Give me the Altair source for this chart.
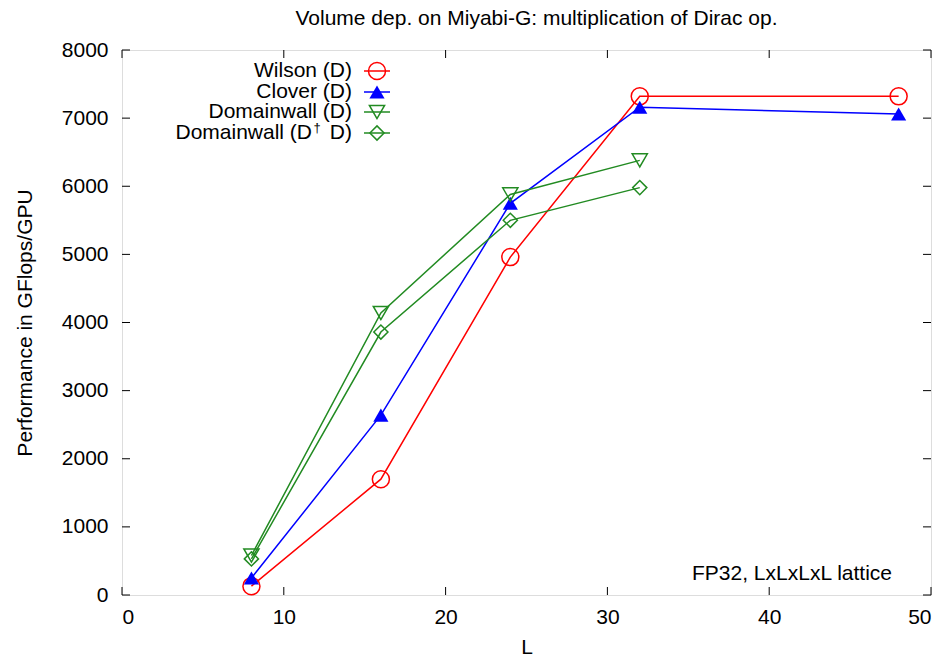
import altair as alt
import pandas as pd

# ---- data ----
L_wilson = [8, 16, 24, 32, 48]
wilson = [130, 1700, 4960, 7320, 7320]
L_clover = [8, 16, 24, 32, 48]
clover = [250, 2640, 5750, 7160, 7060]
L_dw = [8, 16, 24, 32]
dw_d = [580, 4140, 5880, 6380]
dw_ddag = [530, 3860, 5500, 5980]

x_ticks = [0, 10, 20, 30, 40, 50]
y_ticks = [0, 1000, 2000, 3000, 4000, 5000, 6000, 7000, 8000]

FONT = "Liberation Sans"
FS = 21
W, H = 809, 545
RED, BLUE, GREEN = "#ff0000", "#0000ff", "#228b22"

xs = alt.Scale(domain=[0, 50], nice=False)
ys = alt.Scale(domain=[0, 8000], nice=False)

xax = alt.Axis(values=x_ticks, ticks=False, domain=False, grid=False, format="d",
               labelFontSize=FS, labelFont=FONT, labelPadding=11, labelColor="black",
               titleFont=FONT, titleFontSize=FS, titleFontWeight="normal",
               titlePadding=9, titleColor="black")
yax = alt.Axis(values=y_ticks, ticks=False, domain=False, grid=False, format="d",
               labelFontSize=FS, labelFont=FONT, labelPadding=14, labelColor="black",
               titleFont=FONT, titleFontSize=FS, titleFontWeight="normal",
               titlePadding=26, titleColor="black")


def series(Ls, vals, color, shape, filled, size):
    df = pd.DataFrame({"L": Ls, "v": vals})
    base = alt.Chart(df).encode(
        x=alt.X("L:Q", scale=xs, axis=xax, title="L"),
        y=alt.Y("v:Q", scale=ys, axis=yax, title="Performance in GFlops/GPU"),
    )
    line = base.mark_line(color=color, strokeWidth=1.5)
    pts = base.mark_point(shape=shape, filled=filled, size=size, color=color,
                          strokeWidth=1.5, opacity=1)
    return [line, pts]


layers = []
layers += series(L_wilson, wilson, RED, "circle", False, 290)
layers += series(L_clover, clover, BLUE, "triangle-up", True, 230)
layers += series(L_dw, dw_d, GREEN, "triangle-down", False, 230)
layers += series(L_dw, dw_ddag, GREEN, "diamond", False, 200)

# inward ticks (gnuplot style, mirrored)
xt = pd.DataFrame({"t": x_ticks})
yt = pd.DataFrame({"t": y_ticks})
TL = 8
layers.append(alt.Chart(yt).mark_rule(color="black", strokeWidth=1).encode(
    y=alt.Y("t:Q", scale=ys), x=alt.value(0), x2=alt.value(TL)))
layers.append(alt.Chart(yt).mark_rule(color="black", strokeWidth=1).encode(
    y=alt.Y("t:Q", scale=ys), x=alt.value(W - TL), x2=alt.value(W)))
layers.append(alt.Chart(xt).mark_rule(color="black", strokeWidth=1).encode(
    x=alt.X("t:Q", scale=xs), y=alt.value(H), y2=alt.value(H - TL)))
layers.append(alt.Chart(xt).mark_rule(color="black", strokeWidth=1).encode(
    x=alt.X("t:Q", scale=xs), y=alt.value(0), y2=alt.value(TL)))

one = pd.DataFrame({"a": [0]})

# annotation
layers.append(alt.Chart(one).mark_text(text="FP32, LxLxLxL lattice", font=FONT, fontSize=FS,
                                       align="right", baseline="middle", color="black").encode(
    x=alt.value(770), y=alt.value(524)))

# manual gnuplot-style legend
leg_names = ["Wilson (D)", "Clover (D)", "Domainwall (D)"]
leg_colors = [RED, BLUE, GREEN, GREEN]
leg_shapes = ["circle", "triangle-up", "triangle-down", "diamond"]
leg_filled = [False, True, False, False]
leg_sizes = [290, 230, 230, 200]
row_y = [21, 42, 62, 83]
TX = 230
SX = 255
for i in range(4):
    if i < 3:
        layers.append(alt.Chart(one).mark_text(text=leg_names[i], font=FONT, fontSize=FS,
                                               align="right", baseline="middle", color="black").encode(
            x=alt.value(TX), y=alt.value(row_y[i])))
    layers.append(alt.Chart(one).mark_rule(color=leg_colors[i], strokeWidth=1.5).encode(
        x=alt.value(SX - 13), x2=alt.value(SX + 13), y=alt.value(row_y[i])))
    layers.append(alt.Chart(one).mark_point(shape=leg_shapes[i], filled=leg_filled[i],
                                            size=leg_sizes[i], color=leg_colors[i],
                                            strokeWidth=1.5, opacity=1).encode(
        x=alt.value(SX), y=alt.value(row_y[i])))

# Domainwall (D† D) with superscript dagger
layers.append(alt.Chart(one).mark_text(text="D)", font=FONT, fontSize=FS, align="right",
                                       baseline="middle", color="black").encode(
    x=alt.value(TX), y=alt.value(row_y[3])))
layers.append(alt.Chart(one).mark_text(text="\u2020", font=FONT, fontSize=13, align="center",
                                       baseline="middle", color="black").encode(
    x=alt.value(TX - 35), y=alt.value(row_y[3] - 5)))
layers.append(alt.Chart(one).mark_text(text="Domainwall (D", font=FONT, fontSize=FS,
                                       align="right", baseline="middle", color="black").encode(
    x=alt.value(TX - 40), y=alt.value(row_y[3])))

chart = alt.layer(*layers).properties(
    width=W, height=H,
    title=alt.TitleParams("Volume dep. on Miyabi-G: multiplication of Dirac op.",
                          font=FONT, fontSize=FS, fontWeight="normal", color="black",
                          anchor="middle", dx=10, offset=10),
    autosize=alt.AutoSizeParams(type="none"),
    padding={"left": 122, "top": 50, "right": 15, "bottom": 63},
).configure_view(stroke="black", strokeWidth=1.2).configure(background="white")

chart.save("out.html", embed_options={"renderer": "svg", "actions": False})
